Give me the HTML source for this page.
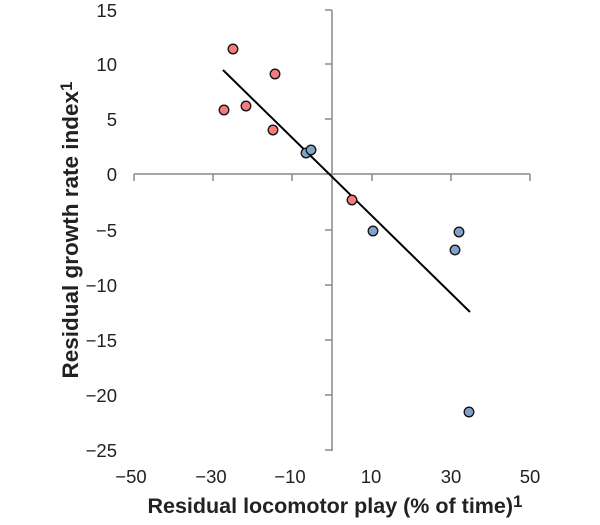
<!DOCTYPE html>
<html><head><style>body{margin:0;background:#fff}</style></head><body>
<svg width="600" height="520" xmlns="http://www.w3.org/2000/svg" font-family="Liberation Sans, sans-serif">
<g stroke="#888" stroke-width="1.5" fill="none">
<line x1="134" y1="174" x2="530" y2="174"/>
<line x1="332" y1="10" x2="332" y2="451"/>
<line x1="134" y1="174" x2="134" y2="181"/><line x1="213" y1="174" x2="213" y2="181"/><line x1="292" y1="174" x2="292" y2="181"/><line x1="372" y1="174" x2="372" y2="181"/><line x1="451" y1="174" x2="451" y2="181"/><line x1="530" y1="174" x2="530" y2="181"/>
<line x1="325" y1="10" x2="332" y2="10"/><line x1="325" y1="64" x2="332" y2="64"/><line x1="325" y1="119" x2="332" y2="119"/><line x1="325" y1="174" x2="332" y2="174"/><line x1="325" y1="230" x2="332" y2="230"/><line x1="325" y1="285" x2="332" y2="285"/><line x1="325" y1="340" x2="332" y2="340"/><line x1="325" y1="395" x2="332" y2="395"/><line x1="325" y1="450" x2="332" y2="450"/>
</g>
<g font-size="18.5" fill="#222" text-anchor="end">
<text x="117" y="17">15</text><text x="117" y="71">10</text><text x="117" y="126">5</text><text x="117" y="181">0</text><text x="117" y="237">−5</text><text x="117" y="292">−10</text><text x="117" y="347">−15</text><text x="117" y="402">−20</text><text x="117" y="457">−25</text>
</g>
<g font-size="18.5" fill="#222" text-anchor="middle">
<text x="131" y="483">−50</text><text x="211" y="483">−30</text><text x="290" y="483">−10</text><text x="371" y="483">10</text><text x="451" y="483">30</text><text x="530" y="483">50</text>
</g>
<text x="335" y="513" font-size="21.5" font-weight="bold" fill="#222" text-anchor="middle">Residual locomotor play (% of time)<tspan font-size="17" dy="-6">1</tspan></text>
<text transform="translate(78,230) rotate(-90)" font-size="22.5" font-weight="bold" fill="#222" text-anchor="middle">Residual growth  rate index<tspan font-size="17" dy="-6">1</tspan></text>
<line x1="223" y1="70" x2="470" y2="312" stroke="#000" stroke-width="2"/>
<g stroke="#111" stroke-width="1.3" fill="#f47c7c">
<circle cx="233" cy="49" r="4.8"/><circle cx="275" cy="74" r="4.8"/><circle cx="224" cy="110" r="4.8"/><circle cx="246" cy="106" r="4.8"/><circle cx="273" cy="130" r="4.8"/><circle cx="352" cy="200" r="4.8"/>
</g>
<g stroke="#111" stroke-width="1.3" fill="#7fa3c8">
<circle cx="306" cy="153" r="4.8"/><circle cx="311" cy="150" r="4.8"/><circle cx="373" cy="231" r="4.8"/><circle cx="459" cy="232" r="4.8"/><circle cx="455" cy="250" r="4.8"/><circle cx="469" cy="412" r="4.8"/>
</g>
</svg>
</body></html>
